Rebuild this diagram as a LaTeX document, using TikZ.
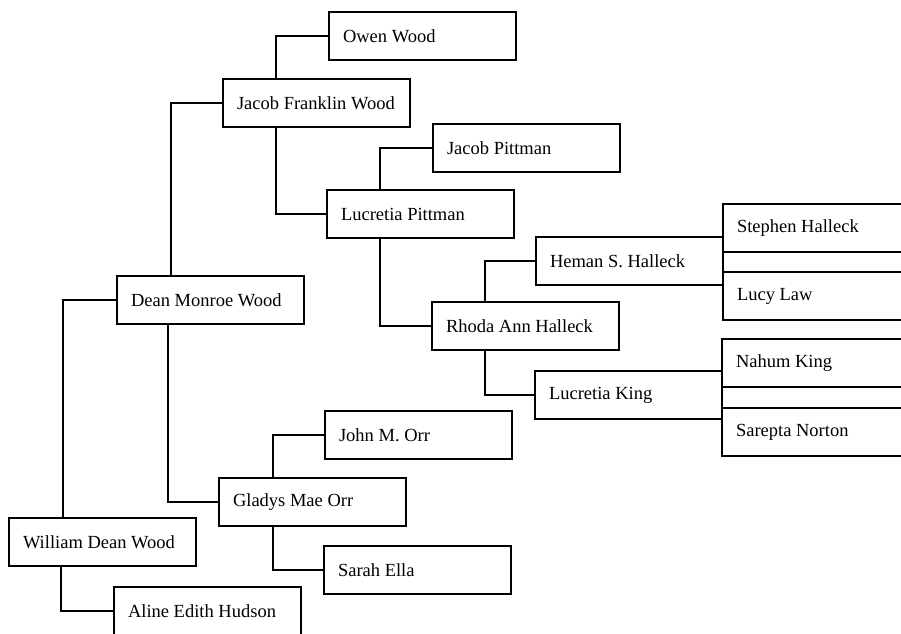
\documentclass[tikz,border=0pt]{standalone}
\usepackage{fontspec}
\setmainfont{Liberation Serif}
\newcommand{\boxtext}[1]{\makebox[159pt][l]{#1}}
\begin{document}
\begin{tikzpicture}[x=1pt,y=-1pt,
  box/.style={draw, line width=1.7pt, rectangle, anchor=north west, outer sep=0pt,
    minimum height=48pt, minimum width=187pt, inner xsep=14pt, inner ysep=0pt,
    font=\fontsize{18.5}{20}\selectfont},
  link/.style={draw, line width=1.7pt}]
\useasboundingbox (0,0) rectangle (901,633);
\clip (0,0) rectangle (901,633);
\fill[white] (0,0) rectangle (901,633);
% generation boxes
\node[box] (owen)    at (329,12)  {\boxtext{Owen Wood}};
\node[box] (jfw)     at (223,79)  {\boxtext{Jacob Franklin Wood}};
\node[box] (jp)      at (433,124) {\boxtext{Jacob Pittman}};
\node[box] (lp)      at (327,190) {\boxtext{Lucretia Pittman}};
\node[box] (heman)   at (536,237) {\boxtext{Heman S. Halleck}};
\node[box] (stephen) at (723,204) {\boxtext{Stephen Halleck}};
\node[box] (lucy)    at (723,272) {\boxtext{Lucy Law}};
\node[box] (dmw)     at (117,276) {\boxtext{Dean Monroe Wood}};
\node[box] (rhoda)   at (432,302) {\boxtext{Rhoda Ann Halleck}};
\node[box] (nahum)   at (722,339) {\boxtext{Nahum King}};
\node[box] (sarepta) at (722,408) {\boxtext{Sarepta Norton}};
\node[box] (lk)      at (535,371) {\boxtext{Lucretia King}};
\node[box] (john)    at (325,411) {\boxtext{John M. Orr}};
\node[box] (gladys)  at (219,478) {\boxtext{Gladys Mae Orr}};
\node[box] (sarah)   at (324,546) {\boxtext{Sarah Ella}};
\node[box] (wdw)     at (9,518)   {\boxtext{William Dean Wood}};
\node[box] (aline)   at (114,587) {\boxtext{Aline Edith Hudson}};
% connectors
\draw[link] ([xshift=53pt]jfw.north west) |- (owen.west);
\draw[link] ([xshift=54pt]dmw.north west) |- (jfw.west);
\draw[link] ([xshift=53pt]jfw.south west) |- (lp.west);
\draw[link] ([xshift=53pt]lp.north west) |- (jp.west);
\draw[link] ([xshift=53pt]lp.south west) |- (rhoda.west);
\draw[link] ([xshift=53pt]rhoda.north west) |- (heman.west);
\draw[link] ([xshift=53pt]rhoda.south west) |- (lk.west);
\draw[link] (stephen.south west) -- (lucy.north west);
\draw[link] (nahum.south west) -- (sarepta.north west);
\draw[link] ([xshift=54pt]wdw.north west) |- (dmw.west);
\draw[link] ([xshift=51pt]dmw.south west) |- (gladys.west);
\draw[link] ([xshift=54pt]gladys.north west) |- (john.west);
\draw[link] ([xshift=54pt]gladys.south west) |- (sarah.west);
\draw[link] ([xshift=52pt]wdw.south west) |- (aline.west);
\end{tikzpicture}
\end{document}
